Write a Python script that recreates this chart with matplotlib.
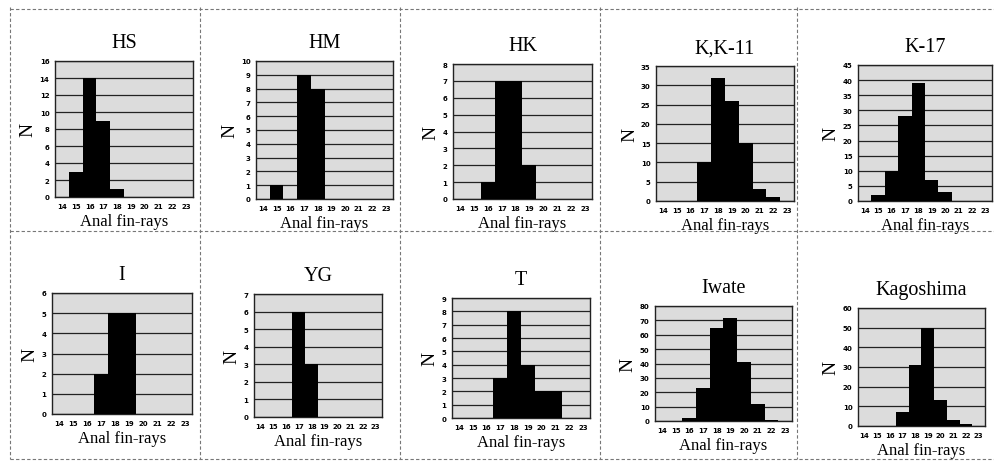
import matplotlib
matplotlib.use("Agg")
import matplotlib.pyplot as plt
from matplotlib.lines import Line2D
import numpy as np

categories = [14, 15, 16, 17, 18, 19, 20, 21, 22, 23]

titles = ["HS", "HM", "HK", "K,K-11", "K-17", "I", "YG", "T", "Iwate", "Kagoshima"]

hs = [0, 3, 14, 9, 1, 0, 0, 0, 0, 0]
hm = [0, 1, 0, 9, 8, 0, 0, 0, 0, 0]
hk = [0, 0, 1, 7, 7, 2, 0, 0, 0, 0]
kk11 = [0, 0, 0, 10, 32, 26, 15, 3, 1, 0]
k17 = [0, 2, 10, 28, 39, 7, 3, 0, 0, 0]
i_vals = [0, 0, 0, 2, 5, 5, 0, 0, 0, 0]
yg = [0, 0, 0, 6, 3, 0, 0, 0, 0, 0]
t_vals = [0, 0, 0, 3, 8, 4, 2, 2, 0, 0]
iwate = [0, 0, 2, 23, 65, 72, 41, 12, 1, 0]
kagoshima = [0, 0, 0, 7, 31, 50, 13, 3, 1, 0]

series = [hs, hm, hk, kk11, k17, i_vals, yg, t_vals, iwate, kagoshima]
ymax = [16, 10, 8, 35, 45, 6, 7, 9, 80, 60]
ystep = [2, 1, 1, 5, 5, 1, 1, 1, 10, 10]

W, H = 995, 464
# axes boxes in pixels: left, top, right, bottom
boxes = [
    (55, 62, 193, 198),
    (256, 62, 393, 200),
    (453, 65, 592, 200),
    (656, 67, 794, 202),
    (858, 66, 992, 202),
    (52, 294, 192, 415),
    (254, 295, 382, 418),
    (452, 299, 590, 419),
    (655, 307, 792, 422),
    (858, 309, 985, 427),
]

serif = ["Liberation Serif", "DejaVu Serif"]

fig = plt.figure(figsize=(W / 100, H / 100), dpi=100)
fig.patch.set_facecolor("white")

x = np.arange(len(categories))
for k in range(10):
    l, t, r, b = boxes[k]
    ax = fig.add_axes([l / W, 1 - b / H, (r - l) / W, (b - t) / H])
    ax.set_facecolor("#dcdcdc")
    ax.bar(x, series[k], width=1.0, color="black", zorder=3)
    ax.set_xlim(-0.5, len(categories) - 0.5)
    ax.set_ylim(0, ymax[k])
    ax.set_yticks(np.arange(0, ymax[k] + 0.01, ystep[k]))
    ax.set_xticks(x)
    ax.set_xticklabels([str(c) for c in categories])
    ax.tick_params(axis="both", length=0, labelsize=5, pad=4)
    for lab in ax.get_xticklabels() + ax.get_yticklabels():
        lab.set_fontweight("bold")
    ax.yaxis.grid(True, color="#222222", linewidth=0.9, zorder=1)
    ax.set_axisbelow(True)
    for s in ax.spines.values():
        s.set_linewidth(1.0)
        s.set_color("#222222")
    ax.set_ylabel("N", family=serif, fontsize=14, rotation=90, labelpad=2)
    ax.set_xlabel("Anal fin-rays", family=serif, fontsize=12, labelpad=3)
    ax.set_title(titles[k], family=serif, fontsize=14.5, pad=10)

# panel borders (dashed, like a scanned page)
lc = "#777777"
for xv in [10, 200, 400, 600, 797]:
    fig.add_artist(Line2D([xv / W, xv / W], [1 - 8 / H, 1 - 460 / H], color=lc,
                          linewidth=0.8, linestyle=(0, (3, 2))))
for yv in [10, 232, 460]:
    fig.add_artist(Line2D([10 / W, 995 / W], [1 - yv / H, 1 - yv / H], color=lc,
                          linewidth=0.8, linestyle=(0, (3, 2))))

fig.savefig("out.png", dpi=100)
